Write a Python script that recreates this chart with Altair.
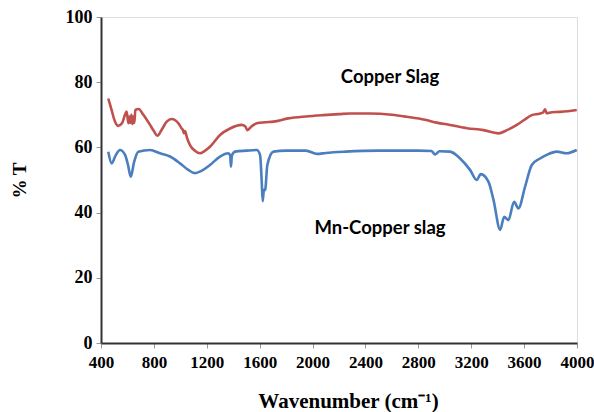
import altair as alt
import pandas as pd

# Copper Slag (red)
red_wn = [455, 480, 505, 529, 560, 594, 607, 615, 622, 630, 638, 645, 652, 660, 685, 720, 771, 800, 826,
          860, 897, 935, 985, 1010, 1020, 1028, 1036, 1050, 1073, 1110, 1149, 1180, 1224, 1300, 1376, 1464,
          1490, 1507, 1540, 1578, 1640, 1704, 1817, 1950, 2080, 2200, 2283, 2435, 2600, 2712, 2850, 2940,
          3040, 3168, 3292, 3406, 3470, 3545, 3600, 3658, 3721, 3745, 3759, 3770, 3810, 3872, 3930, 3998]
red_t = [75.0, 71.5, 68.0, 66.6, 67.5, 71.0, 67.4, 69.5, 67.5, 70.0, 67.2, 69.5, 67.5, 71.5, 71.8, 70.0,
         66.9, 65.0, 63.6, 65.5, 67.9, 68.7, 67.4, 65.8, 65.3, 64.3, 65.0, 63.0, 60.7, 59.0, 58.2, 58.8,
         60.2, 63.8, 65.8, 66.9, 66.5, 65.3, 66.5, 67.4, 67.7, 67.9, 68.9, 69.5, 69.9, 70.2, 70.4, 70.4,
         70.0, 69.4, 68.5, 67.6, 66.9, 65.9, 65.3, 64.3, 65.3, 66.9, 68.4, 69.9, 70.4, 70.8, 71.7, 70.5,
         70.8, 70.9, 71.1, 71.5]

# Mn-Copper slag (blue)
blue_wn = [455, 481, 510, 544, 582, 605, 625, 650, 682, 771, 846, 922, 998, 1060, 1111, 1160, 1224, 1300,
           1363, 1377, 1383, 1390, 1414, 1500, 1578, 1603, 1615, 1623, 1632, 1641, 1658, 1704, 1800, 1950,
           2034, 2100, 2250, 2500, 2800, 2900, 2926, 2960, 3040, 3116, 3191, 3242, 3272, 3330, 3368, 3419,
           3449, 3481, 3524, 3557, 3607, 3658, 3721, 3771, 3847, 3922, 3998]
blue_t = [58.7, 55.1, 57.5, 59.2, 57.7, 54.5, 51.0, 55.5, 58.7, 59.2, 58.2, 57.2, 55.1, 53.1, 52.1, 52.8,
          54.6, 57.2, 58.2, 57.5, 54.1, 57.5, 58.7, 59.0, 59.2, 57.7, 50.0, 43.5, 47.0, 46.9, 54.6, 58.7,
          59.0, 59.0, 58.0, 58.3, 58.7, 59.0, 59.0, 58.9, 57.8, 58.8, 58.7, 56.6, 53.1, 50.0, 51.8, 49.5,
          44.0, 34.7, 38.7, 37.7, 43.3, 41.3, 47.9, 54.6, 56.6, 57.7, 58.7, 58.2, 59.2]

series_names = ["Copper Slag", "Mn-Copper slag"]
series_colors = ["#C0504D", "#4A7EBF"]

label_text = ["Copper Slag", "Mn-Copper slag"]
label_wn = [2586, 2510]
label_t = [81.6, 35.3]

rows = []
for i, (w, t) in enumerate(zip(red_wn, red_t)):
    rows.append({"wn": w, "t": t, "series": series_names[0], "order": i})
for i, (w, t) in enumerate(zip(blue_wn, blue_t)):
    rows.append({"wn": w, "t": t, "series": series_names[1], "order": i})
df = pd.DataFrame(rows)
labels = pd.DataFrame({"text": label_text, "wn": label_wn, "t": label_t})

xscale = alt.Scale(domain=[400, 4000], nice=False, zero=False)
yscale = alt.Scale(domain=[0, 100], nice=False)

lines = alt.Chart(df).mark_line(strokeWidth=2.6, interpolate="monotone").encode(
    x=alt.X("wn:Q", scale=xscale,
            axis=alt.Axis(title="Wavenumber (cm⁻¹)", values=list(range(400, 4001, 400)),
                          format="d", grid=False, tickSize=5, tickColor="#999999",
                          domainColor="#333333", domainWidth=2, labelPadding=6,
                          labelFont="Liberation Serif", labelFontSize=17, labelFontWeight="bold",
                          labelColor="black", labelFlush=False,
                          titleFont="Liberation Serif", titleFontSize=21, titleFontWeight="bold",
                          titleColor="black", titleX=247, titleY=64, titleBaseline="alphabetic")),
    y=alt.Y("t:Q", scale=yscale,
            axis=alt.Axis(title="% T", values=list(range(0, 101, 10)),
                          labelExpr="datum.value % 20 == 0 ? datum.label : ''",
                          grid=False, tickSize=5, tickColor="#999999",
                          domainColor="#333333", domainWidth=2, labelPadding=4,
                          labelFont="Liberation Serif", labelFontSize=18, labelFontWeight="bold",
                          labelColor="black",
                          titleFont="Liberation Serif", titleFontSize=19, titleFontWeight="bold",
                          titleColor="black", titleX=-76, titleY=163, titleBaseline="alphabetic",
                          titleAngle=-90)),
    color=alt.Color("series:N", scale=alt.Scale(domain=series_names, range=series_colors), legend=None),
    order="order:Q",
)

text = alt.Chart(labels).mark_text(font="Lato", fontSize=18.5, fontWeight="bold", color="black",
                                   align="center", baseline="middle").encode(
    x=alt.X("wn:Q", scale=xscale),
    y=alt.Y("t:Q", scale=yscale),
    text="text:N",
)

chart = alt.layer(lines, text).properties(
    width=476, height=326,
    autosize=alt.AutoSizeParams(type="none"),
    padding={"left": 101, "top": 17, "right": 17, "bottom": 69},
).configure_view(stroke="#333333", strokeWidth=2).configure(background="white")

chart.save("out.html", embed_options={"renderer": "svg", "actions": False})
